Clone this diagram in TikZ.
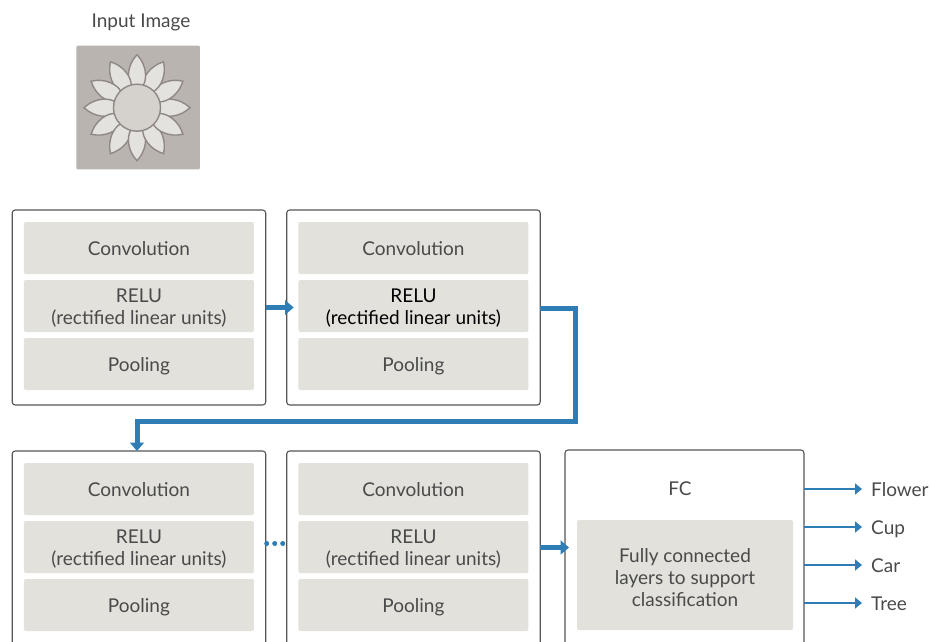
\documentclass[tikz,border=0pt]{standalone}
\usepackage{fontspec}
\setmainfont{Lato}
\usetikzlibrary{positioning,arrows.meta}
\definecolor{flowblue}{HTML}{2F7DB5}
\definecolor{layergray}{HTML}{E2E1DC}
\definecolor{edgegray}{HTML}{555555}
\definecolor{textgray}{HTML}{4A4A4A}
\definecolor{photogray}{HTML}{B9B4AF}
\definecolor{petalgray}{HTML}{E3E2DE}
\definecolor{discgray}{HTML}{D5D2CD}
\definecolor{linegray}{HTML}{8F8885}
\newcommand{\firstline}[1]{\rule{0pt}{#1pt}}
\tikzset{
  stage/.style={draw=edgegray,line width=1.1pt,rounded corners=3pt,minimum width=253.5pt,minimum height=195pt,inner sep=0pt,outer sep=0pt,anchor=north west},
  layer/.style={fill=layergray,rounded corners=2pt,minimum width=230pt,minimum height=52pt,inner sep=0pt,outer sep=0pt,text=textgray,font=\fontsize{19}{22}\selectfont,text height=14pt,text depth=0pt},
  layertwo/.style={fill=layergray,rounded corners=2pt,minimum width=230pt,minimum height=52pt,inner sep=0pt,outer sep=0pt,align=center,text=textgray,font=\fontsize{19}{22}\selectfont},
  caption/.style={text=textgray,inner sep=0pt,font=\fontsize{19}{22}\selectfont,text height=14pt,text depth=0pt},
  bigarrow/.style={draw=flowblue,line width=5pt,-{Triangle[length=8.5pt,width=14pt]}},
  thinarrow/.style={draw=flowblue,line width=2pt,-{Triangle[length=7pt,width=11pt]}},
  petal/.style={draw=linegray,fill=petalgray,line width=1.4pt}
}
\begin{document}
\begin{tikzpicture}[x=1pt,y=1pt,node distance=6pt]
	  \clip (0,0) rectangle (930,-642);
	  \fill[white] (0,0) rectangle (930,-642);

	  % input image
	  \node[caption] (input) at (141,-21) {Input Image};
	  \node[fill=photogray,rounded corners=1pt,minimum size=123.5pt,inner sep=0pt] (photo) at (138.2,-107.5) {};
	  \coordinate (bloom) at (137,-107.7);
	  \foreach \a in {0,30,...,330}
	    \draw[petal,shift={(bloom)},rotate=\a] (22,-6) .. controls (29,-10.5) and (43,-9.5) .. (53,0) .. controls (43,9.5) and (29,10.5) .. (22,6) -- cycle;
	  \node[circle,draw=linegray,fill=discgray,line width=1.4pt,minimum size=47pt,inner sep=0pt] (disc) at (bloom) {};

	  % upper row
	  \node[stage] (stagea) at (12.2,-210) {};
	  \node[stage, right=21pt of stagea.north east, anchor=north west] (stageb) {};
	  \node[layer, below=12pt of stagea.north] (conva) {Convolution};
	  \node[layertwo, below=of conva] (relua) {\firstline{18}RELU\\(rectified linear units)};
	  \node[layer, below=of relua] (poola) {Pooling};
	  \node[layer, below=12pt of stageb.north] (convb) {Convolution};
	  \node[layertwo, below=of convb, text=black] (relub) {\firstline{18}RELU\\(rectified linear units)};
	  \node[layer, below=of relub] (poolb) {Pooling};

	  % lower row
	  \node[stage] (stagec) at (12.2,-451) {};
	  \node[stage, right=21pt of stagec.north east, anchor=north west] (staged) {};
	  \node[layer, below=12pt of stagec.north] (convc) {Convolution};
	  \node[layertwo, below=of convc] (reluc) {\firstline{18}RELU\\(rectified linear units)};
	  \node[layer, below=of reluc] (poolc) {Pooling};
	  \node[layer, below=12pt of staged.north] (convd) {Convolution};
	  \node[layertwo, below=of convd] (relud) {\firstline{18}RELU\\(rectified linear units)};
	  \node[layer, below=of relud] (poold) {Pooling};

	  \node[stage, minimum width=239pt] (stagefc) at (565,-450) {};
	  \node[caption] (fc) at (680,-488) {FC};
	  \node[layertwo, minimum width=216pt, minimum height=110pt] (fclayer) at (685,-575) {\firstline{20}Fully connected\\layers to support\\classification};

	  % outputs
	  \node[caption, anchor=west] (flower) at (871,-489) {Flower};
	  \node[caption, anchor=west] (cup) at (871,-527) {Cup};
	  \node[caption, anchor=west] (car) at (871,-565) {Car};
	  \node[caption, anchor=west] (tree) at (871,-603) {Tree};

	  \coordinate (turna) at (575.5,-308);
	  \coordinate (turnb) at (575.5,-421);
	  \coordinate (turnc) at (137,-421);
	  \coordinate (entryc) at (137,-451);
	  \coordinate (fcin) at (569,-547.5);

	  \draw[bigarrow,shorten >=-7pt] (stagea.east) -- (stageb.west);
	  \draw[bigarrow] (stageb.east |- turna) -- (turna) -- (turnb) -- (turnc) -- (entryc);
	  \draw[flowblue,line width=5pt,line cap=round,dash pattern=on 0pt off 8pt] ([yshift=3.5pt]reluc.east -| stagec.east) ++(1,0) -- ++(19,0);
	  \draw[bigarrow] (staged.east |- fcin) -- (fcin);

	  \draw[thinarrow] (stagefc.east |- flower.west) -- ([xshift=-9pt]flower.west);
	  \draw[thinarrow] (stagefc.east |- cup.west) -- ([xshift=-9pt]cup.west);
	  \draw[thinarrow] (stagefc.east |- car.west) -- ([xshift=-9pt]car.west);
	  \draw[thinarrow] (stagefc.east |- tree.west) -- ([xshift=-9pt]tree.west);
\end{tikzpicture}
\end{document}
